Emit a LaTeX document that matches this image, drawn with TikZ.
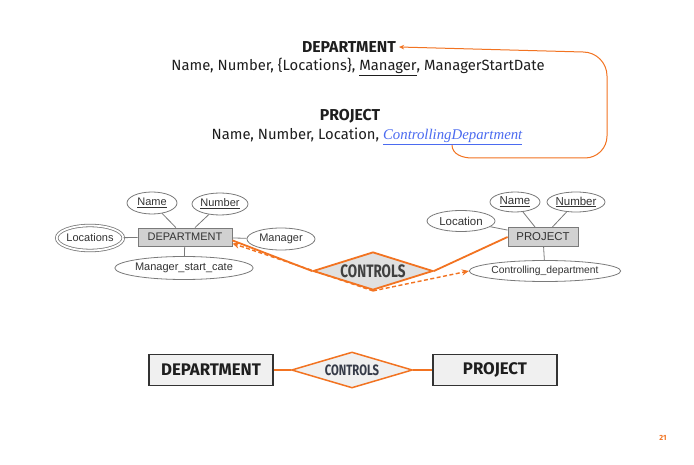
\documentclass[tikz,border=0pt]{standalone}
\usepackage{fontspec}
\setmainfont{Fira Sans}
\newfontfamily\erfont{Liberation Sans}
\newfontfamily\condfont[FakeStretch=0.75]{Fira Sans}
\newfontfamily\serifit{Liberation Serif}
\usetikzlibrary{shapes.geometric,arrows.meta}
\definecolor{ora}{HTML}{F27321}
\definecolor{lnk}{HTML}{4B6BF0}
\definecolor{txt}{HTML}{1E1E1E}
\definecolor{ergray}{HTML}{7A7A7A}
\definecolor{ctrltxt}{HTML}{363B48}
\tikzset{
  toptitle/.style={text=txt,font=\fontsize{15.8}{17}\selectfont\bfseries,inner sep=0pt},
  topline/.style={text=txt,font=\fontsize{14.8}{16}\selectfont,inner sep=0pt},
  attr/.style={ellipse,draw=ergray,line width=0.8pt,fill=white,inner sep=0pt,text=black!80,font=\erfont\fontsize{11}{12}\selectfont},
  ent/.style={rectangle,draw=ergray,line width=0.8pt,fill=black!18,inner sep=0pt,text=black!80,font=\erfont\fontsize{11}{12}\selectfont},
  attrline/.style={draw=ergray,line width=0.8pt},
  oline/.style={draw=ora,line width=1.8pt},
  odash/.style={draw=ora,line width=1.4pt,dash pattern=on 4pt off 2.5pt,-{Stealth[length=7pt,width=6pt]}},
  midia/.style={diamond,aspect=3.16,draw=ora,line width=1.8pt,fill=black!12,inner sep=0pt,minimum width=120pt,minimum height=38pt,text=black!75,font=\condfont\bfseries\fontsize{18}{20}\selectfont},
  bent/.style={rectangle,draw=black!80,line width=1.3pt,fill=black!6,inner sep=0pt,minimum width=124pt,minimum height=31pt,text=txt,font=\fontsize{16.8}{18}\selectfont\bfseries},
  bdia/.style={diamond,aspect=3.36,draw=ora,line width=1.5pt,fill=black!6,inner sep=0pt,minimum width=121pt,minimum height=36pt,text=ctrltxt,font=\condfont\bfseries\fontsize{15}{16}\selectfont},
  bline/.style={draw=ora,line width=1.3pt}
}
\begin{document}
\begin{tikzpicture}[x=1pt,y=-1pt]
\useasboundingbox[fill=white] (0,0) rectangle (694,465);

% top relational text
\node[toptitle] (tdept) at (349,47) {DEPARTMENT};
\node[topline] (tdeptattr) at (358,67) {Name, Number, \{Locations\}, \underline{Manager}, ManagerStartDate};
\node[toptitle] (tproj) at (350,116) {PROJECT};
\node[topline] (tprojattr) at (367,136) {Name, Number, Location, {\color{lnk}\serifit\itshape\underline{ControllingDepartment}}};
\coordinate (cdend) at (452,145);
\draw[ora,line width=1pt,-{Stealth[length=5pt,width=4.5pt]}]
  (cdend) to[out=-90,in=180] (472,158) -- (585,158)
  to[out=0,in=-90] (607,136) -- (607,76)
  to[out=90,in=0] (583,52) -- ([xshift=3pt]tdept.east);

% middle ER diagram
\node[ent,minimum width=94pt,minimum height=18pt] (mdept) at (185,237) {DEPARTMENT};
\node[attr,minimum width=50pt,minimum height=22pt] (mname) at (152,203) {\underline{Name}};
\node[attr,minimum width=56pt,minimum height=22pt] (mnum) at (220,204) {\underline{Number}};
\node[attr,double=white,double distance=1.8pt,minimum width=66pt,minimum height=25pt] (mloc) at (90,238) {Locations};
\node[attr,minimum width=68pt,minimum height=22pt] (mmgr) at (281,239) {Manager};
\node[attr,minimum width=123pt,minimum height=23pt] (mmsd) at (184,268) {Manager\_start\_cate};
\draw[attrline] (mname) -- (mdept);
\draw[attrline] (mnum) -- (mdept);
\draw[attrline] (mloc) -- (mdept);
\draw[attrline] (mmgr) -- (mdept);
\draw[attrline] (mmsd) -- (mdept);

\node[ent,minimum width=70pt,minimum height=19pt,font=\erfont\fontsize{11.4}{12}\selectfont] (mproj) at (543,237) {PROJECT};
\node[attr,minimum width=50pt,minimum height=20pt,font=\erfont\fontsize{11.5}{12}\selectfont] (pname) at (515,202) {\underline{Name}};
\node[attr,minimum width=58pt,minimum height=20pt,font=\erfont\fontsize{11.5}{12}\selectfont] (pnum) at (576,202) {\underline{Number}};
\node[attr,minimum width=68pt,minimum height=21pt,font=\erfont\fontsize{11.5}{12}\selectfont] (ploc) at (461,221) {Location};
\node[attr,minimum width=145pt,minimum height=21pt,font=\erfont\fontsize{10.3}{12}\selectfont] (pcd) at (545,271) {Controlling\_department};
\draw[attrline] (pname) -- (mproj);
\draw[attrline] (pnum) -- (mproj);
\draw[attrline] (ploc) -- (mproj);
\draw[attrline] (pcd) -- (mproj);

\node[midia] (mctrl) at (373,271) {CONTROLS};
\draw[oline] (mctrl.west) -- ([yshift=6pt]mdept.south east);
\draw[oline] (mctrl.east) -- (mproj.west);
\draw[odash] (mctrl.south) -- ([yshift=3pt]mdept.south east);
\draw[odash] (mctrl.south) -- (pcd.west);

% bottom ER diagram
\node[bent] (bdept) at (211,370) {DEPARTMENT};
\node[bent] (bproj) at (495,370) {PROJECT};
\node[bdia] (bctrl) at (352,370) {CONTROLS};
\draw[bline] (bdept) -- (bctrl);
\draw[bline] (bctrl) -- (bproj);

% page number
\node[text=ora,font=\fontsize{7.5}{8}\selectfont\bfseries] (pg) at (663,438) {21};
\end{tikzpicture}
\end{document}
